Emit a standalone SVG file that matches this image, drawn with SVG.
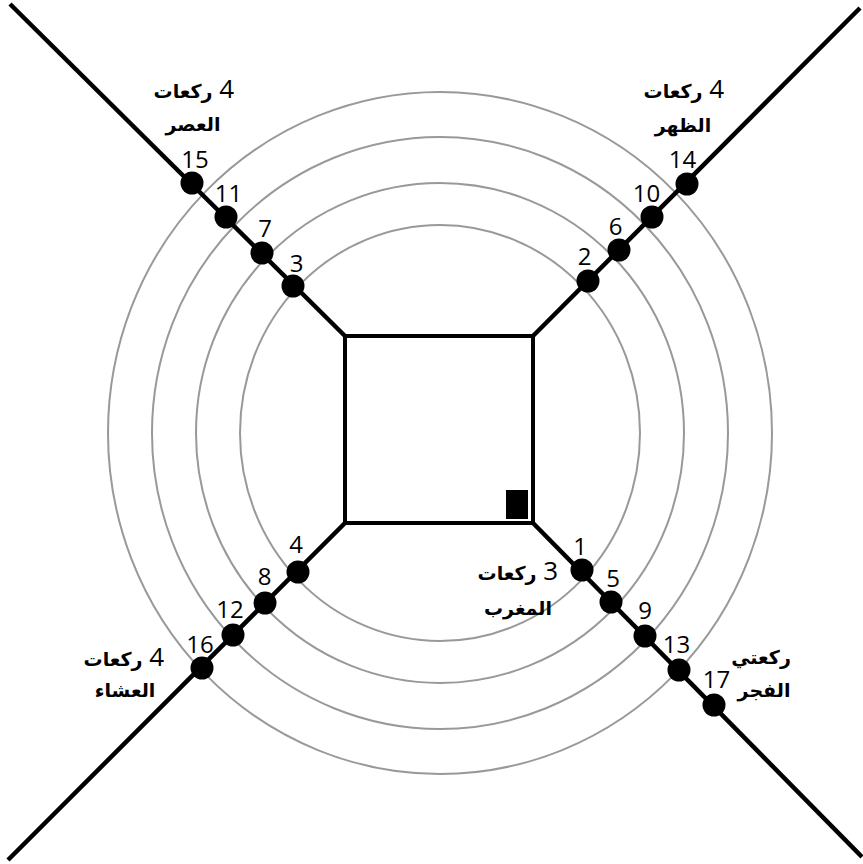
<svg xmlns="http://www.w3.org/2000/svg" width="863" height="864" viewBox="0 0 863 864">
<style>
.ring{fill:none;stroke:#999;stroke-width:2}
.ax{stroke:#000;stroke-width:4.5;stroke-linecap:butt;fill:none}
.dot{fill:#000}
.num{font-family:"Open Sans","Liberation Sans",sans-serif;font-size:24px;fill:#000;text-anchor:middle}
.ar{font-family:"DejaVu Sans",sans-serif;font-weight:bold;font-size:19px;fill:#000}
.big{font-family:"Open Sans","Liberation Sans",sans-serif;font-weight:normal;font-size:26px}
</style>
<rect width="863" height="864" fill="#fff"/>
<g id="rings">
<ellipse class="ring" cx="440" cy="433" rx="200" ry="208"/>
<ellipse class="ring" cx="440" cy="433" rx="244" ry="250"/>
<ellipse class="ring" cx="440" cy="433" rx="288" ry="296"/>
<ellipse class="ring" cx="440" cy="433" rx="332" ry="341"/>
</g>
<g id="connectors">
<line class="ax" x1="345" y1="336" x2="10" y2="4"/>
<line class="ax" x1="533" y1="336" x2="860" y2="8"/>
<line class="ax" x1="345" y1="523" x2="8" y2="860"/>
<line class="ax" x1="533" y1="523" x2="862" y2="857"/>
</g>
<g id="kaaba">
<rect x="345" y="336" width="188" height="187" fill="#fff" stroke="#000" stroke-width="4"/>
<rect x="506" y="490" width="22" height="29" fill="#000"/>
</g>
<g id="n1"><circle class="dot" cx="582" cy="570" r="11.5"/><text class="num" x="580" y="555">1</text></g>
<g id="n2"><circle class="dot" cx="588" cy="281" r="11.5"/><text class="num" x="584.5" y="265">2</text></g>
<g id="n3"><circle class="dot" cx="293" cy="286" r="11.5"/><text class="num" x="296.5" y="272">3</text></g>
<g id="n4"><circle class="dot" cx="298" cy="572" r="11.5"/><text class="num" x="296" y="553">4</text></g>
<g id="n5"><circle class="dot" cx="611" cy="602" r="11.5"/><text class="num" x="613" y="587">5</text></g>
<g id="n6"><circle class="dot" cx="619" cy="250" r="11.5"/><text class="num" x="615.5" y="235">6</text></g>
<g id="n7"><circle class="dot" cx="262" cy="253" r="11.5"/><text class="num" x="265" y="237">7</text></g>
<g id="n8"><circle class="dot" cx="265" cy="603" r="11.5"/><text class="num" x="264.5" y="585">8</text></g>
<g id="n9"><circle class="dot" cx="645" cy="636" r="11.5"/><text class="num" x="645" y="619">9</text></g>
<g id="n10"><circle class="dot" cx="652" cy="217" r="11.5"/><text class="num" x="646.5" y="202">10</text></g>
<g id="n11"><circle class="dot" cx="226" cy="217" r="11.5"/><text class="num" x="228.5" y="202">11</text></g>
<g id="n12"><circle class="dot" cx="233" cy="635" r="11.5"/><text class="num" x="230" y="618">12</text></g>
<g id="n13"><circle class="dot" cx="679" cy="670" r="11.5"/><text class="num" x="676.5" y="653">13</text></g>
<g id="n14"><circle class="dot" cx="687" cy="184" r="11.5"/><text class="num" x="682.5" y="168">14</text></g>
<g id="n15"><circle class="dot" cx="192" cy="183" r="11.5"/><text class="num" x="195" y="168">15</text></g>
<g id="n16"><circle class="dot" cx="202" cy="668" r="11.5"/><text class="num" x="200" y="653">16</text></g>
<g id="n17"><circle class="dot" cx="714" cy="705" r="11.5"/><text class="num" x="716.5" y="688">17</text></g>
<g id="asr">
<text class="ar" x="234" y="98" direction="rtl" text-anchor="start"><tspan class="big">4</tspan> ركعات</text>
<text class="ar" x="193" y="131" text-anchor="middle">العصر</text>
</g>
<g id="dhuhr">
<text class="ar" x="724" y="98" direction="rtl" text-anchor="start"><tspan class="big">4</tspan> ركعات</text>
<text class="ar" x="683" y="132" text-anchor="middle">الظهر</text>
</g>
<g id="maghrib">
<text class="ar" x="558" y="580" direction="rtl" text-anchor="start"><tspan class="big">3</tspan> ركعات</text>
<text class="ar" x="518" y="615" text-anchor="middle">المغرب</text>
</g>
<g id="isha">
<text class="ar" x="164" y="666" direction="rtl" text-anchor="start"><tspan class="big">4</tspan> ركعات</text>
<text class="ar" x="125" y="697" text-anchor="middle">العشاء</text>
</g>
<g id="fajr">
<text class="ar" x="761" y="664" text-anchor="middle">ركعتي</text>
<text class="ar" x="764" y="697" text-anchor="middle">الفجر</text>
</g>
</svg>
